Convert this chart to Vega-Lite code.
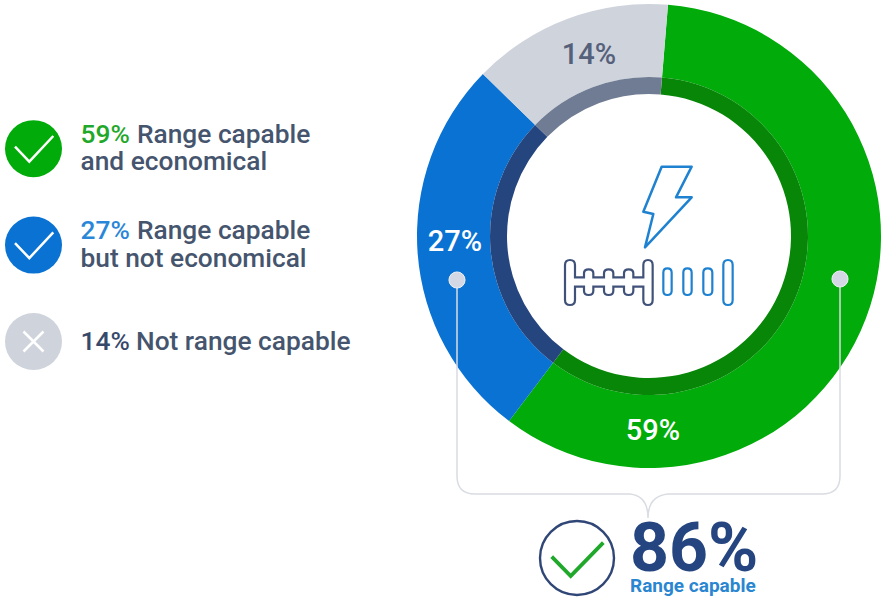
{"$schema":"https://vega.github.io/schema/vega-lite/v6.json","width":882,"height":598,"autosize":{"type":"fit","contains":"padding"},"padding":0,"background":"white","view":{"stroke":null},
"config":{"text":{"font":"Roboto"}},
"data":{"values":[
{"category":"Range capable and economical","value":59,"rank":1,"pct":"59%","line1":"Range capable","line2":"and economical"},
{"category":"Range capable but not economical","value":27,"rank":2,"pct":"27%","line1":"Range capable","line2":"but not economical"},
{"category":"Not range capable","value":14,"rank":3,"pct":"14%","line1":"Not range capable","line2":""}]},
"resolve":{"scale":{"color":"independent"}},
"layer":[
{"mark":{"type":"arc","outerRadius":232,"innerRadius":159},"encoding":{"x":{"value":649},"y":{"value":236},"theta":{"field":"value","type":"quantitative","stack":true,"scale":{"domain":[0,100],"range":[0.082,6.365]}},"order":{"field":"rank"},"color":{"field":"category","type":"nominal","legend":null,"scale":{"domain":["Range capable and economical","Range capable but not economical","Not range capable"],"range":["#01AB0A","#0A72D2","#CFD3DC"]}}}},
{"mark":{"type":"arc","outerRadius":159,"innerRadius":142},"encoding":{"x":{"value":649},"y":{"value":236},"theta":{"field":"value","type":"quantitative","stack":true,"scale":{"domain":[0,100],"range":[0.082,6.365]}},"order":{"field":"rank"},"color":{"field":"category","type":"nominal","legend":null,"scale":{"domain":["Range capable and economical","Range capable but not economical","Not range capable"],"range":["#078607","#25457F","#6F7C93"]}}}},
{"transform":[{"filter":"datum.rank==1"}],"mark":{"type":"text","fontSize":29,"fontWeight":500,"color":"white"},"encoding":{"text":{"field":"pct"},"x":{"value":653},"y":{"value":431}}},
{"transform":[{"filter":"datum.rank==2"}],"mark":{"type":"text","fontSize":29,"fontWeight":500,"color":"white"},"encoding":{"text":{"field":"pct"},"x":{"value":455},"y":{"value":242}}},
{"transform":[{"filter":"datum.rank==3"}],"mark":{"type":"text","fontSize":29,"fontWeight":500,"color":"#55607A"},"encoding":{"text":{"field":"pct"},"x":{"value":589},"y":{"value":55}}},
{"mark":{"type":"point","filled":true,"size":3249,"opacity":1},"encoding":{"x":{"value":33.5},"y":{"field":"category","type":"nominal","axis":null,"sort":null,"scale":{"type":"point","padding":0,"domain":["Range capable and economical","Range capable but not economical","Not range capable"],"range":[148.7,341.5]}},"color":{"field":"category","type":"nominal","legend":null,"scale":{"domain":["Range capable and economical","Range capable but not economical","Not range capable"],"range":["#01AB0A","#0A72D2","#CFD3DC"]}}}},
{"mark":{"type":"point","filled":false,"size":4,"opacity":1,"color":"white","strokeWidth":2.5},"encoding":{"x":{"value":33.5},"y":{"field":"category","type":"nominal","axis":null,"scale":{"type":"point","padding":0,"domain":["Range capable and economical","Range capable but not economical","Not range capable"],"range":[148.7,341.5]}},"shape":{"field":"category","type":"nominal","legend":null,"scale":{"domain":["Range capable and economical","Range capable but not economical","Not range capable"],"range":["M-18.5 -2L-4.2 13L19.8 -12.7","M-18.5 -2L-4.2 13L19.8 -12.7","M-10 -10L10 10M10 -10L-10 10"]}}}},
{"transform":[{"filter":"datum.rank==1"}],"mark":{"type":"text","align":"left","baseline":"alphabetic","fontSize":26.3,"fontWeight":500,"color":"#1FA82A","dy":-6},"encoding":{"text":{"field":"pct"},"x":{"value":80.5},"y":{"field":"category","type":"nominal","axis":null,"scale":{"type":"point","padding":0,"domain":["Range capable and economical","Range capable but not economical","Not range capable"],"range":[148.7,341.5]}}}},
{"transform":[{"filter":"datum.rank==2"}],"mark":{"type":"text","align":"left","baseline":"alphabetic","fontSize":26.3,"fontWeight":500,"color":"#2A86D8","dy":-6},"encoding":{"text":{"field":"pct"},"x":{"value":80.5},"y":{"field":"category","type":"nominal","axis":null,"scale":{"type":"point","padding":0,"domain":["Range capable and economical","Range capable but not economical","Not range capable"],"range":[148.7,341.5]}}}},
{"transform":[{"filter":"datum.rank==3"}],"mark":{"type":"text","align":"left","baseline":"alphabetic","fontSize":26.3,"fontWeight":500,"color":"#36496B","dy":8.5},"encoding":{"text":{"field":"pct"},"x":{"value":80.5},"y":{"field":"category","type":"nominal","axis":null,"scale":{"type":"point","padding":0,"domain":["Range capable and economical","Range capable but not economical","Not range capable"],"range":[148.7,341.5]}}}},
{"transform":[{"filter":"datum.rank<3"}],"mark":{"type":"text","align":"left","baseline":"alphabetic","fontSize":26.3,"fontWeight":500,"color":"#46556E","dy":-6},"encoding":{"text":{"field":"line1"},"x":{"value":137},"y":{"field":"category","type":"nominal","axis":null,"scale":{"type":"point","padding":0,"domain":["Range capable and economical","Range capable but not economical","Not range capable"],"range":[148.7,341.5]}}}},
{"transform":[{"filter":"datum.rank<3"}],"mark":{"type":"text","align":"left","baseline":"alphabetic","fontSize":26.3,"fontWeight":500,"color":"#46556E","dy":21.5},"encoding":{"text":{"field":"line2"},"x":{"value":80.5},"y":{"field":"category","type":"nominal","axis":null,"scale":{"type":"point","padding":0,"domain":["Range capable and economical","Range capable but not economical","Not range capable"],"range":[148.7,341.5]}}}},
{"transform":[{"filter":"datum.rank==3"}],"mark":{"type":"text","align":"left","baseline":"alphabetic","fontSize":26.3,"fontWeight":500,"color":"#46556E","dy":8.5},"encoding":{"text":{"field":"line1"},"x":{"value":136},"y":{"field":"category","type":"nominal","axis":null,"scale":{"type":"point","padding":0,"domain":["Range capable and economical","Range capable but not economical","Not range capable"],"range":[148.7,341.5]}}}},
{"data":{"values":[{"total":"86%","label":"Range capable"}]},"mark":{"type":"point","filled":false,"size":4,"opacity":1,"color":"#D9DCE2","strokeWidth":1.5,"shape":"M-192 44V240Q-192 258 -174 258H-19Q-1 260 -1 282Q-1 260 19 258H173Q191 258 191 240V44"},"encoding":{"x":{"value":649},"y":{"value":236}}},
{"data":{"values":[{"total":"86%","label":"Range capable"}]},"mark":{"type":"point","filled":true,"size":260,"opacity":1,"color":"#D3D8E4","stroke":"#F0F1F4","strokeWidth":1},"encoding":{"x":{"value":457},"y":{"value":280}}},
{"data":{"values":[{"total":"86%","label":"Range capable"}]},"mark":{"type":"point","filled":true,"size":260,"opacity":1,"color":"#D3D8E4","stroke":"#F0F1F4","strokeWidth":1},"encoding":{"x":{"value":840},"y":{"value":279}}},
{"data":{"values":[{"total":"86%","label":"Range capable"}]},"mark":{"type":"point","filled":false,"size":5476,"opacity":1,"color":"#2F4676","strokeWidth":2.4},"encoding":{"x":{"value":577},"y":{"value":558}}},
{"data":{"values":[{"total":"86%","label":"Range capable"}]},"mark":{"type":"point","filled":false,"size":4,"opacity":1,"color":"#1FA82A","strokeWidth":3.8,"shape":"M-25.3 -1.3L-6.3 18L26.3 -15.3"},"encoding":{"x":{"value":577},"y":{"value":558}}},
{"data":{"values":[{"total":"86%","label":"Range capable"}]},"mark":{"type":"text","align":"left","baseline":"alphabetic","fontSize":68,"fontWeight":700,"color":"#24457F"},"encoding":{"text":{"field":"total"},"x":{"value":630},"y":{"value":571}}},
{"data":{"values":[{"total":"86%","label":"Range capable"}]},"mark":{"type":"text","align":"left","baseline":"alphabetic","fontSize":19,"fontWeight":700,"color":"#2A86D0"},"encoding":{"text":{"field":"label"},"x":{"value":630},"y":{"value":592}}},
{"data":{"values":[{"icon":"lightning"}]},"mark":{"type":"point","filled":false,"size":0.4444,"opacity":1,"color":"#1F82D0","strokeWidth":2.5,"strokeJoin":"round","shape":"M365 80H455L408 172H455L315 322L340 222L310 215Z"},"encoding":{"x":{"value":540},"y":{"value":140}}},
{"data":{"values":[{"icon":"gears"}]},"mark":{"type":"point","filled":false,"size":0.4444,"opacity":1,"color":"#41527A","strokeWidth":2.2,"shape":"M75 375Q75 360 90 360Q105 360 105 375V412H132V400Q132 388 146 388Q160 388 160 400V412H192V400Q192 388 206 388Q220 388 220 400V412H252V400Q252 388 266 388Q280 388 280 400V412H310V375Q310 360 324 360Q338 360 338 375V480Q338 495 324 495Q310 495 310 480V440H280V452Q280 465 266 465Q252 465 252 452V440H220V452Q220 465 206 465Q192 465 192 452V440H160V452Q160 465 146 465Q132 465 132 452V440H105V480Q105 495 90 495Q75 495 75 480Z"},"encoding":{"x":{"value":540},"y":{"value":140}}},
{"data":{"values":[{"icon":"slots"}]},"mark":{"type":"point","filled":false,"size":0.4444,"opacity":1,"color":"#1F82D0","strokeWidth":2.2,"shape":"M370 398Q370 385 382 385Q395 385 395 398V452Q395 465 382 465Q370 465 370 452ZM430 398Q430 385 442 385Q455 385 455 398V452Q455 465 442 465Q430 465 430 452ZM490 398Q490 385 503 385Q517 385 517 398V452Q517 465 503 465Q490 465 490 452ZM550 375Q550 360 564 360Q578 360 578 375V480Q578 495 564 495Q550 495 550 480Z"},"encoding":{"x":{"value":540},"y":{"value":140}}}
]}
